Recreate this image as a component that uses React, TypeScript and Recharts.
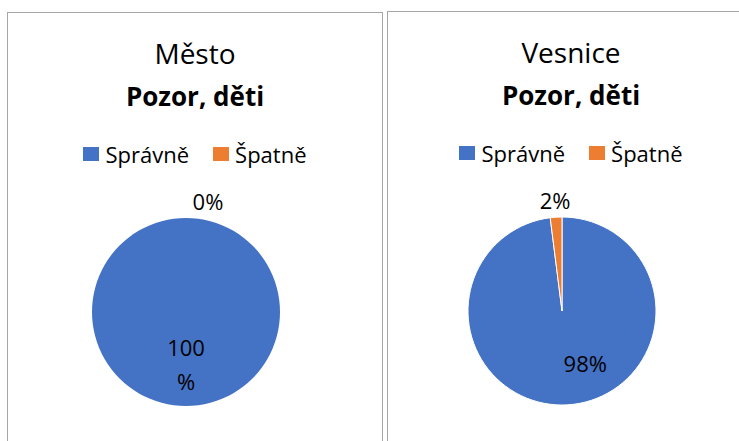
import { PieChart, Pie, Cell, Legend } from "recharts";

const CATEGORIES = ["Správně", "Špatně"];
const MESTO_VALUES = [100, 0];
const VESNICE_VALUES = [98, 2];
const PANEL_TITLES = ["Město", "Vesnice"];
const SUBTITLE = "Pozor, děti";

const COLORS = ["#4472C4", "#ED7D31"];
const FONT = "'Open Sans', sans-serif";

const toRows = (values: number[]) =>
	CATEGORIES.map((name, i) => ({ name, value: values[i] }));

const RAD = Math.PI / 180;

function renderLabel(props: any, insideShift: number) {
	const { cx, cy, midAngle, outerRadius, value, percent } = props;
	const pct = Math.round((percent ?? 0) * 100);
	const big = pct >= 50;
	const r = big ? outerRadius * 0.55 : outerRadius + 17;
	let x = cx + r * Math.cos(-midAngle * RAD);
	const y = cy + r * Math.sin(-midAngle * RAD);
	if (value === 0) x += 22;
	if (big && pct < 100) x += insideShift;
	const common = {
		fill: "#000",
		fontSize: 22,
		fontFamily: FONT,
		textAnchor: "middle" as const,
		dominantBaseline: "central" as const,
	};
	if (pct === 100) {
		return (
			<text x={x} y={y} {...common}>
				<tspan x={x} dy={-17}>
					100
				</tspan>
				<tspan x={x} dy={34}>
					%
				</tspan>
			</text>
		);
	}
	return (
		<text x={x} y={y} {...common}>
			{pct}%
		</text>
	);
}

function LegendContent() {
	return (
		<div
			style={{
				display: "flex",
				justifyContent: "center",
				alignItems: "center",
				fontFamily: FONT,
				fontSize: 22,
				color: "#000",
			}}
		>
			{CATEGORIES.map((c, i) => (
				<div
					key={c}
					style={{ display: "flex", alignItems: "center", marginRight: i === 0 ? 24 : 0 }}
				>
					<span
						style={{
							width: 16,
							height: 14,
							background: COLORS[i],
							display: "inline-block",
							marginRight: 6,
						}}
					/>
					<span>{c}</span>
				</div>
			))}
		</div>
	);
}

type PanelProps = {
	left: number;
	top: number;
	width: number;
	title: string;
	values: number[];
	insideShift: number;
};

function Panel({ left, top, width, title, values, insideShift }: PanelProps) {
	const height = 440;
	const data = toRows(values);
	return (
		<div
			style={{
				position: "absolute",
				left,
				top,
				width,
				height,
				border: "1px solid #a6a6a6",
				background: "#fff",
			}}
		>
			<div
				style={{
					position: "absolute",
					left: 0,
					width: "100%",
					top: 20,
					textAlign: "center",
					fontFamily: FONT,
					fontSize: 28,
					lineHeight: "40px",
					color: "#000",
				}}
			>
				{title}
			</div>
			<div
				style={{
					position: "absolute",
					left: 0,
					width: "100%",
					top: 63,
					textAlign: "center",
					fontFamily: FONT,
					fontSize: 26,
					fontWeight: 700,
					lineHeight: "40px",
					color: "#000",
				}}
			>
				{SUBTITLE}
			</div>
			<PieChart width={width} height={height - 10}>
				<Legend
					verticalAlign="top"
					content={<LegendContent />}
					wrapperStyle={{ top: 126, left: 0, width }}
				/>
				<Pie
					data={data}
					dataKey="value"
					nameKey="name"
					cx={width / 2 - 14}
					cy={264}
					outerRadius={94}
					startAngle={90}
					endAngle={-270}
					labelLine={false}
					label={(p: any) => renderLabel(p, insideShift)}
					isAnimationActive={false}
				>
					{data.map((d, i) => (
						<Cell
							key={i}
							fill={COLORS[i % COLORS.length]}
							stroke={d.value > 0 && d.value < 100 ? "#fff" : "none"}
							strokeWidth={1}
						/>
					))}
				</Pie>
			</PieChart>
		</div>
	);
}

export default function App() {
	return (
		<div
			style={{
				position: "absolute",
				left: 0,
				top: 0,
				width: 739,
				height: 441,
				overflow: "hidden",
				background: "#fff",
			}}
		>
			<Panel left={7} top={12} width={374} title={PANEL_TITLES[0]} values={MESTO_VALUES} insideShift={0} />
			<Panel left={387} top={11} width={366} title={PANEL_TITLES[1]} values={VESNICE_VALUES} insideShift={20} />
		</div>
	);
}
